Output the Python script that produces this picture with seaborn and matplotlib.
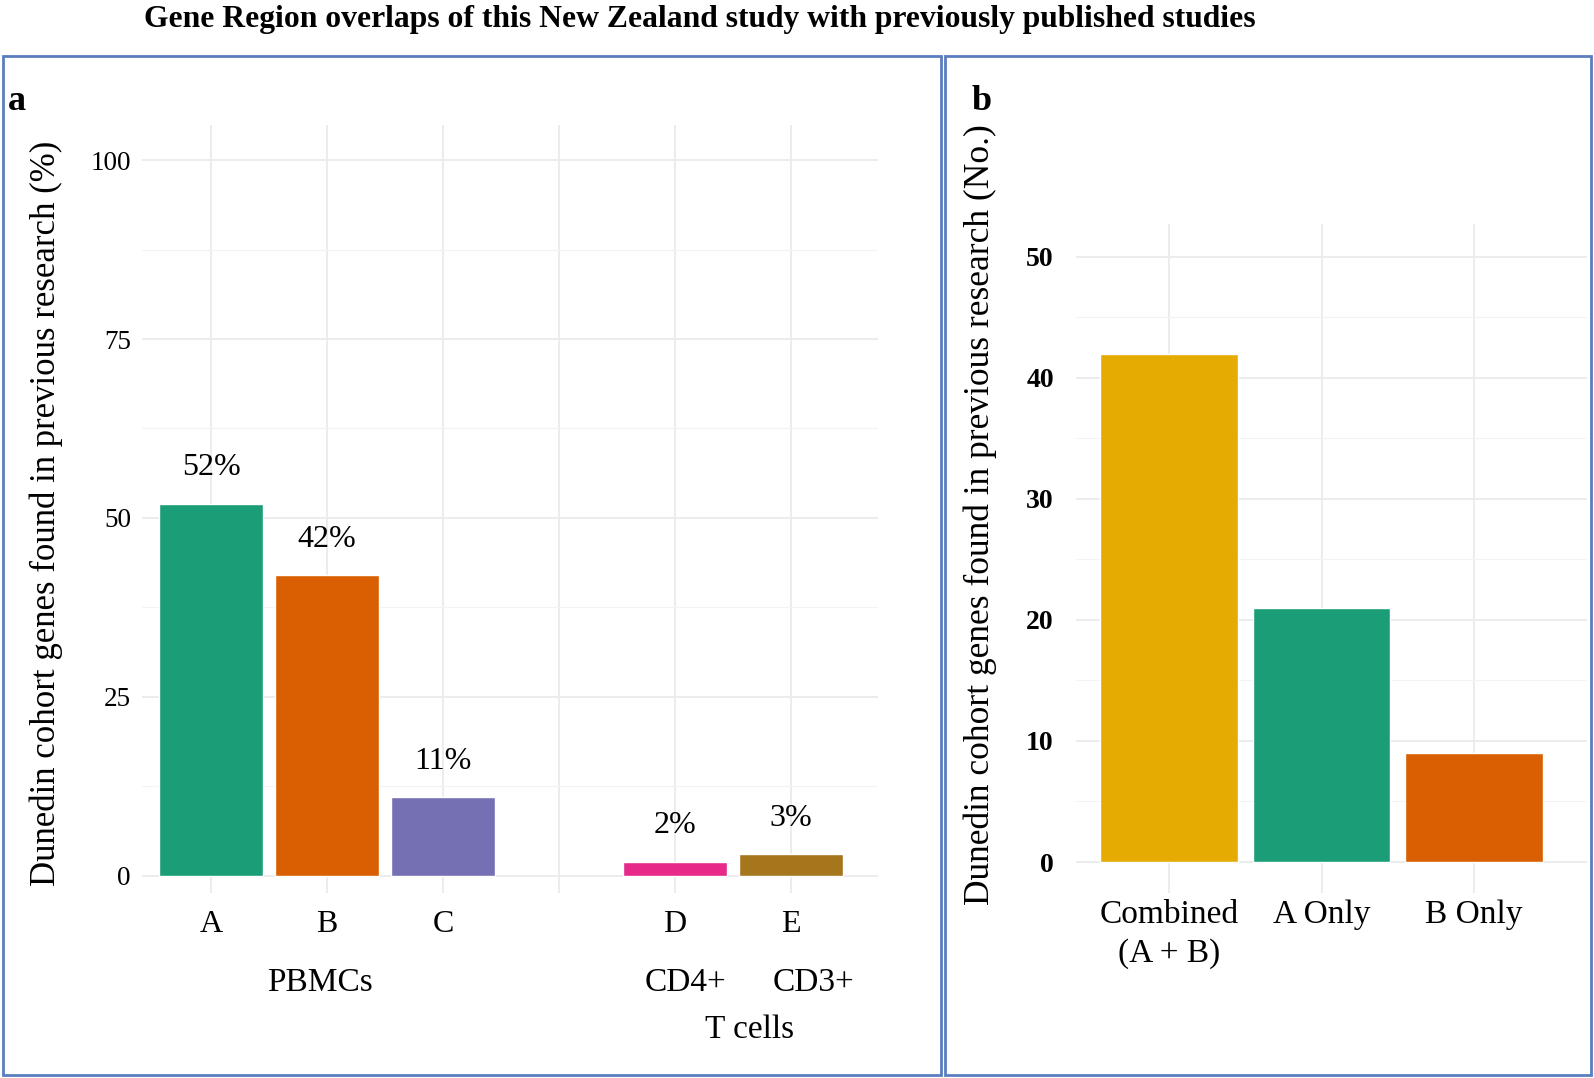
import matplotlib
matplotlib.use("Agg")
import matplotlib.pyplot as plt
import matplotlib.transforms as mtransforms
from matplotlib.patches import Rectangle
import seaborn as sns
import pandas as pd

# data
studies_a = ['A', 'B', 'C', 'D', 'E']
pct_a = [52, 42, 11, 2, 3]
colors_a = ['#1B9E77', '#D95F02', '#7570B3', '#E7298A', '#A6761D']
order_a = ['A', 'B', 'C', ' ', 'D', 'E']   # blank slot between the two groups

groups_b = ['Combined\n(A + B)', 'A Only', 'B Only']
count_b = [42, 21, 9]
colors_b = ['#E6AB02', '#1B9E77', '#D95F02']

W, H = 1594, 1078
sns.set_theme(style='whitegrid')
plt.rcParams['font.family'] = ['Liberation Serif', 'DejaVu Serif']
plt.rcParams['text.color'] = 'black'

fig = plt.figure(figsize=(W / 100, H / 100), dpi=100)


def px_axes(x0, y0, x1, y1):
    # pixel box (top-left origin) -> figure axes
    return fig.add_axes([x0 / W, 1 - y1 / H, (x1 - x0) / W, (y1 - y0) / H])


def style_axes(ax):
    ax.set_facecolor('white')
    for s in ax.spines.values():
        s.set_visible(False)
    ax.grid(True, which='major', color='#EBEBEB', linewidth=1.3)
    ax.grid(True, which='minor', axis='y', color='#F3F3F3', linewidth=0.8)
    ax.tick_params(axis='both', which='both', length=0, labelcolor='black')
    ax.set_axisbelow(True)
    ax.set_xlabel('')
    ax.set_ylabel('')


# ---- panel a ----
df_a = pd.DataFrame({'study': studies_a, 'pct': pct_a})
ax1 = px_axes(142, 125, 878, 893)
sns.barplot(data=df_a, x='study', y='pct', hue='study', order=order_a,
            palette=dict(zip(studies_a, colors_a)), width=0.9,
            saturation=1, legend=False, ax=ax1)
style_axes(ax1)
ax1.set_xlim(-0.595, 5.75)
ax1.set_ylim(-2.4, 104.9)
ax1.set_yticks([0, 25, 50, 75, 100])
ax1.set_yticks([12.5, 37.5, 62.5, 87.5], minor=True)
ax1.set_xticks(range(len(order_a)))
ax1.set_xticklabels(order_a, fontsize=23)
ax1.tick_params(axis='x', pad=12)
ax1.tick_params(axis='y', labelsize=19.5, pad=8)
for i, s in enumerate(order_a):
    if s in studies_a:
        v = pct_a[studies_a.index(s)]
        ax1.text(i, v + 5, f'{v}%', ha='center', va='center', fontsize=23)

tr = mtransforms.blended_transform_factory(ax1.transData, ax1.transAxes)
ax1.text(0.94, -0.117, 'PBMCs', transform=tr, ha='center', va='center', fontsize=24)
ax1.text(4.09, -0.117, 'CD4+', transform=tr, ha='center', va='center', fontsize=24)
ax1.text(5.19, -0.117, 'CD3+', transform=tr, ha='center', va='center', fontsize=24)
ax1.text(4.64, -0.178, 'T cells', transform=tr, ha='center', va='center', fontsize=24)

# ---- panel b ----
df_b = pd.DataFrame({'group': groups_b, 'count': count_b})
ax2 = px_axes(1076, 224, 1587, 893)
sns.barplot(data=df_b, x='group', y='count', hue='group',
            palette=dict(zip(groups_b, colors_b)), width=0.9,
            saturation=1, legend=False, ax=ax2)
style_axes(ax2)
ax2.set_xlim(-0.61, 2.74)
ax2.set_ylim(-2.56, 52.7)
ax2.set_yticks([0, 10, 20, 30, 40, 50])
ax2.set_yticks([5, 15, 25, 35, 45], minor=True)
ax2.set_xticks(range(len(groups_b)))
ax2.set_xticklabels(groups_b, fontsize=24, linespacing=1.35)
ax2.tick_params(axis='x', pad=5)
ax2.tick_params(axis='y', labelsize=20, pad=16)
for lab in ax2.get_yticklabels():
    lab.set_fontweight('bold')

# ---- figure texts ----
fig.text(700 / W, 1 - 20 / H,
         'Gene Region overlaps of this New Zealand study with previously published studies',
         ha='center', va='center', fontsize=22.8, fontweight='bold')
fig.text(8 / W, 1 - 102 / H, 'a', ha='left', va='center', fontsize=26, fontweight='bold')
fig.text(972 / W, 1 - 102 / H, 'b', ha='left', va='center', fontsize=26, fontweight='bold')
fig.text(46 / W, 1 - 513 / H, 'Dunedin cohort genes found in previous research (%)',
         rotation=90, ha='center', va='center', fontsize=25)
fig.text(980 / W, 1 - 515 / H, 'Dunedin cohort genes found in previous research (No.)',
         rotation=90, ha='center', va='center', fontsize=25.5)

# panel frames
border = '#5B7FBE'
fig.patches.append(Rectangle((3 / W, 1 - 1075 / H), (941 - 3) / W, (1075 - 56) / H,
                             transform=fig.transFigure, fill=False,
                             edgecolor=border, linewidth=2))
fig.patches.append(Rectangle((945 / W, 1 - 1075 / H), (1591 - 945) / W, (1075 - 56) / H,
                             transform=fig.transFigure, fill=False,
                             edgecolor=border, linewidth=2))

fig.savefig('out.png', dpi=100, facecolor='white')
